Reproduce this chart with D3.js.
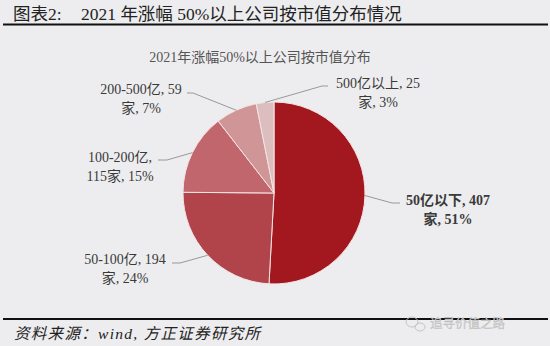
<!DOCTYPE html>
<html><head><meta charset="utf-8">
<script src="https://cdn.jsdelivr.net/npm/d3@7"></script>
<style>
html,body{margin:0;padding:0;background:#EDEDEF;}
svg{display:block;}
</style></head>
<body>
<script>
// ---- data ----
const categories = ["50亿以下", "50-100亿", "100-200亿", "200-500亿", "500亿以上"];
const counts = [407, 194, 115, 59, 25];
const percents = [51, 24, 15, 7, 3];
const colors = ["#A3171F", "#B1434A", "#C1666C", "#D09597", "#DDBEBF"];
const titleText = "图表2:";
const titleMain = "2021 年涨幅 50%以上公司按市值分布情况";
const chartTitle = "2021年涨幅50%以上公司按市值分布";
const sourceText = "资料来源：wind, 方正证券研究所";
const watermark = "追寻价值之路";

// ---- layout ----
const W = 550, H = 346;
const cx = 274, cy = 193, R = 91;
// label layout: elbow point, line end, text center x, first line center y, break type
const labelLayout = [
  {elbow:[392,203], end:[400,203], tx:448, ty:200, brk:"count", bold:true},
  {elbow:[180,263], end:[172,263], tx:125, ty:259, brk:"count"},
  {elbow:[167,160], end:[158,160], tx:120, ty:157, brk:"comma"},
  {elbow:[193,93],  end:[187,93],  tx:141, ty:89,  brk:"count"},
  {elbow:[322,86],  end:[328,86],  tx:378, ty:83,  brk:"count"}
];

const svg = d3.select("body").append("svg").attr("width", W).attr("height", H);
const serif = "'Liberation Serif','Times New Roman','Noto Sans CJK SC',serif";

// header
svg.append("text").attr("x", 13).attr("y", 20).attr("font-family", serif)
  .attr("font-size", 17.5).attr("fill", "#222").text(titleText);
svg.append("text").attr("x", 81).attr("y", 20).attr("font-family", serif)
  .attr("font-size", 17.5).attr("fill", "#222").text(titleMain);
svg.append("line").attr("x1", 3).attr("x2", 548).attr("y1", 24.5).attr("y2", 24.5)
  .attr("stroke", "#111").attr("stroke-width", 2);

// chart title
svg.append("text").attr("x", 260).attr("y", 62).attr("text-anchor", "middle")
  .attr("font-family", serif).attr("font-size", 14).attr("fill", "#555").text(chartTitle);

// pie
const data = categories.map((c, i) => ({cat: c, count: counts[i], pct: percents[i], color: colors[i], lay: labelLayout[i]}));
const pie = d3.pie().value(d => d.count).sort(null);
const arcs = pie(data);
const arc = d3.arc().innerRadius(0).outerRadius(R);
const g = svg.append("g").attr("transform", `translate(${cx},${cy})`);
g.selectAll("path").data(arcs).join("path")
  .attr("d", arc).attr("fill", d => d.data.color)
  .attr("stroke", "#F4E4E4").attr("stroke-width", 1);

// leader lines
const edge = d3.arc().innerRadius(R).outerRadius(R);
arcs.forEach(a => {
  const [px, py] = edge.centroid(a);
  const L = a.data.lay;
  svg.append("polyline")
    .attr("points", [[cx + px, cy + py], L.elbow, L.end].map(p => p.join(",")).join(" "))
    .attr("fill", "none").attr("stroke", "#999").attr("stroke-width", 1);
  let l1, l2;
  if (L.brk === "comma") { l1 = `${a.data.cat},`; l2 = `${a.data.count}家, ${a.data.pct}%`; }
  else { l1 = `${a.data.cat}, ${a.data.count}`; l2 = `家, ${a.data.pct}%`; }
  const t = svg.append("text").attr("text-anchor", "middle").attr("font-family", serif)
    .attr("font-size", 14).attr("fill", "#3a3a3a").attr("font-weight", L.bold ? "bold" : "normal");
  t.append("tspan").attr("x", L.tx).attr("y", L.ty + 5).text(l1);
  t.append("tspan").attr("x", L.tx).attr("y", L.ty + 24).text(l2);
});

// footer
svg.append("line").attr("x1", 3).attr("x2", 548).attr("y1", 319).attr("y2", 319)
  .attr("stroke", "#111").attr("stroke-width", 2);
svg.append("text").attr("x", 14).attr("y", 339).attr("font-family", serif)
  .attr("font-size", 15.5).attr("letter-spacing", 1.3).attr("font-style", "italic")
  .attr("fill", "#222").text(sourceText);
// watermark
const wm = svg.append("g").attr("fill", "none").attr("stroke", "#c4c4c4").attr("stroke-width", 1);
wm.append("ellipse").attr("cx", 412).attr("cy", 322).attr("rx", 6).attr("ry", 5);
wm.append("ellipse").attr("cx", 420).attr("cy", 327).attr("rx", 5).attr("ry", 4);
svg.append("text").attr("x", 430).attr("y", 328).attr("font-family", "'Noto Sans CJK SC',sans-serif")
  .attr("font-size", 12.5).attr("fill", "#d0d0d0").attr("stroke", "#bbb").attr("stroke-width", 0.3).text(watermark);
</script>
</body></html>
